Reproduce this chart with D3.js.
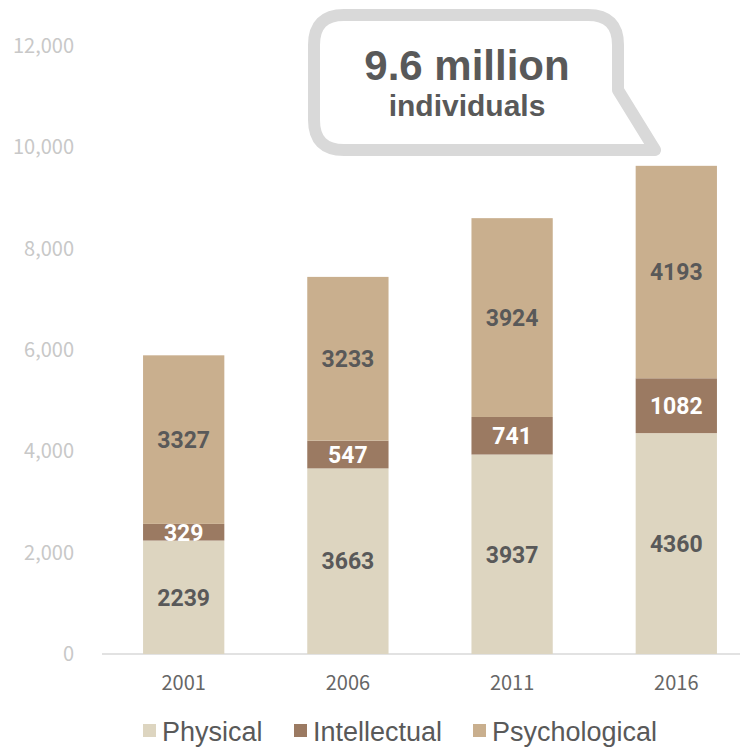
<!DOCTYPE html>
<html>
<head>
<meta charset="utf-8">
<script src="https://cdn.jsdelivr.net/npm/d3@7/dist/d3.min.js"></script>
<style>
  body { margin: 0; background: #fff; }
  svg { display: block; }
</style>
</head>
<body>
<div id="chart"></div>
<script>
  'use strict';

  var years = ['2001', '2006', '2011', '2016'];
  var physical = [2239, 3663, 3937, 4360];
  var intellectual = [329, 547, 741, 1082];
  var psychological = [3327, 3233, 3924, 4193];
  var seriesNames = ['Physical', 'Intellectual', 'Psychological'];
  var yTicks = [0, 2000, 4000, 6000, 8000, 10000, 12000];
  var calloutLines = ['9.6 million', 'individuals'];

  var width = 753;
  var height = 747;
  var colors = ['#ddd5c0', '#9b7a62', '#c9af8e'];
  var labelColors = ['#595959', '#ffffff', '#595959'];

  var rows = years.map(function(y, i) {
    return { year: y, Physical: physical[i], Intellectual: intellectual[i], Psychological: psychological[i] };
  });
  var stacked = d3.stack().keys(seriesNames)(rows);

  var svg = d3.select('#chart').append('svg')
    .attr('width', width)
    .attr('height', height);

  var xScale = d3.scaleBand().domain(years).range([102, 758])
    .paddingInner(0.505).paddingOuter(0.25);
  var yScale = d3.scaleLinear().domain([0, 12000]).range([654, 46]);

  // Y-axis tick labels (no axis line).
  var yAxis = d3.axisLeft(yScale).tickValues(yTicks).tickFormat(d3.format(',')).tickSize(0).tickPadding(0);
  var yG = svg.append('g').attr('transform', 'translate(74,0)').call(yAxis);
  yG.select('.domain').remove();
  yG.selectAll('text')
    .style('font-family', '"Noto Sans CJK JP", "Noto Sans", sans-serif')
    .style('font-size', '20px')
    .style('fill', '#c8c8c8');

  // Baseline.
  svg.append('line')
    .attr('x1', 102).attr('x2', 740)
    .attr('y1', yScale(0)).attr('y2', yScale(0))
    .style('stroke', '#d9d9d9')
    .style('stroke-width', 1.5);

  // X-axis labels.
  var xAxis = d3.axisBottom(xScale).tickSize(0).tickPadding(0);
  var xG = svg.append('g').attr('transform', 'translate(0,676)').call(xAxis);
  xG.select('.domain').remove();
  xG.selectAll('text')
    .style('font-family', '"Noto Sans CJK JP", "Noto Sans", sans-serif')
    .style('font-size', '20px')
    .style('fill', '#666666');

  // Bars.
  var layers = svg.append('g').selectAll('g')
    .data(stacked)
    .enter().append('g')
    .style('fill', function(d, i) { return colors[i]; });

  layers.selectAll('rect')
    .data(function(d) { return d; })
    .enter().append('rect')
    .attr('x', function(d) { return xScale(d.data.year); })
    .attr('width', xScale.bandwidth())
    .attr('y', function(d) { return yScale(d[1]); })
    .attr('height', function(d) { return yScale(d[0]) - yScale(d[1]); });

  // Value labels.
  stacked.forEach(function(layer, i) {
    svg.append('g').selectAll('text')
      .data(layer)
      .enter().append('text')
      .attr('x', function(d) { return xScale(d.data.year) + xScale.bandwidth() / 2; })
      .attr('y', function(d) { return (yScale(d[0]) + yScale(d[1])) / 2; })
      .attr('dy', '0.36em')
      .attr('text-anchor', 'middle')
      .style('font-family', 'Roboto, "Liberation Sans", sans-serif')
      .style('font-weight', 'bold')
      .style('font-size', '23px')
      .style('fill', labelColors[i])
      .text(function(d) { return d[1] - d[0]; });
  });

  // Speech-bubble callout.
  svg.append('path')
    .attr('d', 'M344,15 H588 Q618,15 618,45 V90 L655,150 H344 Q314,150 314,120 V45 Q314,15 344,15 Z')
    .style('fill', '#fff')
    .style('stroke', '#d9d9d9')
    .style('stroke-width', 12)
    .style('stroke-linejoin', 'round');

  svg.append('text')
    .attr('x', 467).attr('y', 80)
    .attr('text-anchor', 'middle')
    .style('font-family', '"Liberation Sans", Arial, sans-serif')
    .style('font-weight', 'bold')
    .style('font-size', '42px')
    .style('fill', '#595959')
    .text(calloutLines[0]);

  svg.append('text')
    .attr('x', 467).attr('y', 116)
    .attr('text-anchor', 'middle')
    .style('font-family', '"Liberation Sans", Arial, sans-serif')
    .style('font-weight', 'bold')
    .style('font-size', '30px')
    .style('fill', '#595959')
    .text(calloutLines[1]);

  // Legend.
  var legendX = [143, 294, 473];
  var legend = svg.append('g').selectAll('g')
    .data(seriesNames)
    .enter().append('g')
    .attr('transform', function(d, i) { return 'translate(' + legendX[i] + ',731)'; });

  legend.append('rect')
    .attr('x', 0).attr('y', -7)
    .attr('width', 13).attr('height', 13)
    .style('fill', function(d, i) { return colors[i]; });

  legend.append('text')
    .attr('x', 19).attr('y', 0)
    .attr('dy', '0.36em')
    .style('font-family', '"Liberation Sans", Arial, sans-serif')
    .style('font-size', '27px')
    .style('fill', '#595959')
    .text(function(d) { return d; });
</script>
</body>
</html>
